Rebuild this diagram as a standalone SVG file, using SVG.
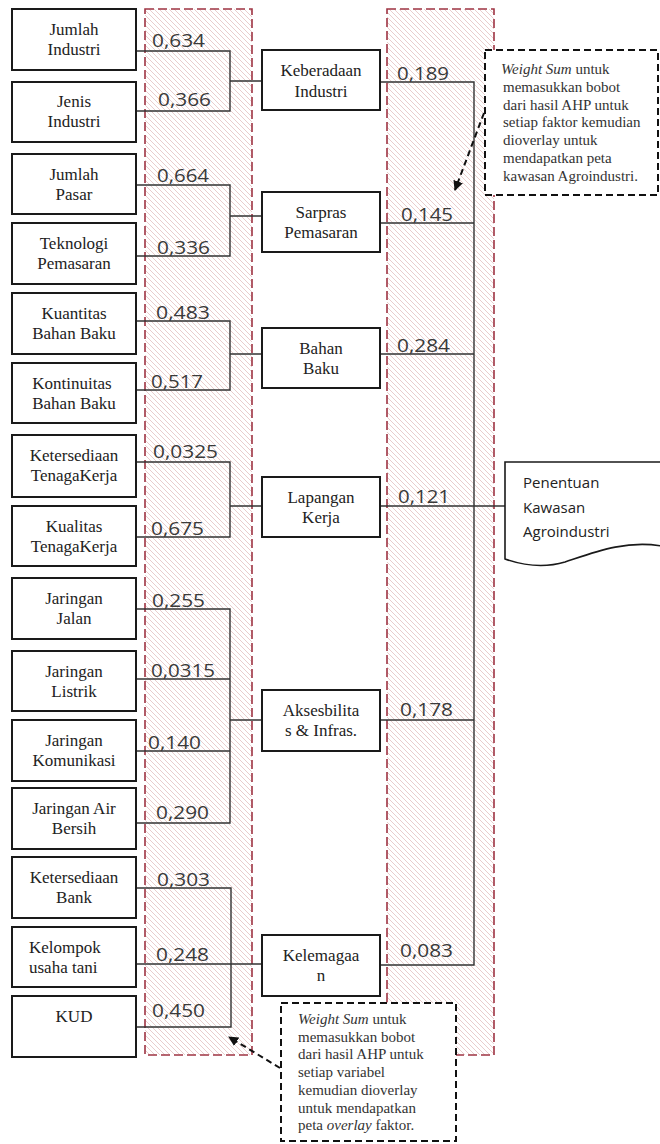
<svg xmlns="http://www.w3.org/2000/svg" width="660" height="1144" viewBox="0 0 660 1144">
<defs>
<pattern id="hatch" patternUnits="userSpaceOnUse" width="5" height="5">
<path d="M0,0 L5,5 M-1,4 L1,6 M4,-1 L6,1" stroke="#e3c0c0" stroke-width="0.8"/>
</pattern>
<marker id="arr" viewBox="0 0 10 10" refX="9" refY="5" markerWidth="5" markerHeight="5" orient="auto" markerUnits="strokeWidth">
<path d="M0,0 L10,5 L0,10 Z" fill="#111"/>
</marker>
<style>
.box{fill:#fff;stroke:#1a1a1a;stroke-width:2}
.t{font-family:"Liberation Serif","Times New Roman",serif;font-size:17px;fill:#222;text-anchor:middle}
.n{font-family:"Open Sans","Liberation Sans",sans-serif;font-size:19px;fill:#3a3a3a}
.c{fill:none;stroke:#333;stroke-width:1.4}
.region{fill:url(#hatch);stroke:#9e3443;stroke-width:1.6;stroke-dasharray:9 4}
.callout{fill:#fff;stroke:#111;stroke-width:2;stroke-dasharray:7 4}
.ct{font-family:"Liberation Serif","Times New Roman",serif;font-size:15px;fill:#333}
.arrow{fill:none;stroke:#111;stroke-width:2;stroke-dasharray:6 4}
</style>
</defs>
<rect width="660" height="1144" fill="#fff"/>

<g id="regions">
<rect class="region" x="145" y="9" width="107" height="1046"/>
<rect class="region" x="387" y="9" width="107" height="1046"/>
</g>

<g id="connectors">
<path class="c" d="M136,51 H230 V111 H136 M230,81 H262"/>
<path class="c" d="M136,185 H230 V256 H136 M230,216 H262"/>
<path class="c" d="M136,321 H230 V390 H136 M230,354 H262"/>
<path class="c" d="M136,462 H230 V537 H136 M230,506 H262"/>
<path class="c" d="M136,609 H230 V823 H136 M136,679 H230 M136,751 H230 M230,720 H262"/>
<path class="c" d="M136,888 H231 V1027 H136 M136,964 H262"/>
<path class="c" d="M380,82 H474 V965 H380 M380,223 H474 M380,354 H474 M380,506 H505 M380,720 H474"/>
</g>

<g id="weights">
<text class="n" x="152" y="47" textLength="53" lengthAdjust="spacingAndGlyphs">0,634</text>
<text class="n" x="158" y="106" textLength="53" lengthAdjust="spacingAndGlyphs">0,366</text>
<text class="n" x="157" y="182" textLength="52" lengthAdjust="spacingAndGlyphs">0,664</text>
<text class="n" x="157" y="254" textLength="53" lengthAdjust="spacingAndGlyphs">0,336</text>
<text class="n" x="156" y="319" textLength="54" lengthAdjust="spacingAndGlyphs">0,483</text>
<text class="n" x="151" y="388" textLength="52" lengthAdjust="spacingAndGlyphs">0,517</text>
<text class="n" x="153" y="458" textLength="65" lengthAdjust="spacingAndGlyphs">0,0325</text>
<text class="n" x="151" y="535" textLength="53" lengthAdjust="spacingAndGlyphs">0,675</text>
<text class="n" x="152" y="607" textLength="53" lengthAdjust="spacingAndGlyphs">0,255</text>
<text class="n" x="151" y="677" textLength="64" lengthAdjust="spacingAndGlyphs">0,0315</text>
<text class="n" x="148" y="749" textLength="53" lengthAdjust="spacingAndGlyphs">0,140</text>
<text class="n" x="156" y="819" textLength="53" lengthAdjust="spacingAndGlyphs">0,290</text>
<text class="n" x="157" y="886" textLength="53" lengthAdjust="spacingAndGlyphs">0,303</text>
<text class="n" x="156" y="961" textLength="53" lengthAdjust="spacingAndGlyphs">0,248</text>
<text class="n" x="152" y="1017" textLength="53" lengthAdjust="spacingAndGlyphs">0,450</text>
<text class="n" x="397" y="80" textLength="52" lengthAdjust="spacingAndGlyphs">0,189</text>
<text class="n" x="401" y="221" textLength="52" lengthAdjust="spacingAndGlyphs">0,145</text>
<text class="n" x="397" y="352" textLength="53" lengthAdjust="spacingAndGlyphs">0,284</text>
<text class="n" x="398" y="503" textLength="52" lengthAdjust="spacingAndGlyphs">0,121</text>
<text class="n" x="400" y="716" textLength="53" lengthAdjust="spacingAndGlyphs">0,178</text>
<text class="n" x="400" y="957" textLength="53" lengthAdjust="spacingAndGlyphs">0,083</text>
</g>

<g id="jumlah-industri"><rect class="box" x="12" y="9" width="124" height="61"/><text class="t" x="74" y="35">Jumlah</text><text class="t" x="74" y="54.5">Industri</text></g>
<g id="jenis-industri"><rect class="box" x="12" y="82" width="124" height="60"/><text class="t" x="74" y="107">Jenis</text><text class="t" x="74" y="127">Industri</text></g>
<g id="jumlah-pasar"><rect class="box" x="12" y="154" width="124" height="60"/><text class="t" x="74" y="180">Jumlah</text><text class="t" x="74" y="199.5">Pasar</text></g>
<g id="teknologi-pemasaran"><rect class="box" x="12" y="223" width="124" height="61"/><text class="t" x="74" y="249">Teknologi</text><text class="t" x="74" y="268.5">Pemasaran</text></g>
<g id="kuantitas-bahan-baku"><rect class="box" x="12" y="293" width="124" height="61"/><text class="t" x="74" y="319">Kuantitas</text><text class="t" x="74" y="338.5">Bahan Baku</text></g>
<g id="kontinuitas-bahan-baku"><rect class="box" x="12" y="363" width="124" height="60"/><text class="t" x="72" y="389">Kontinuitas</text><text class="t" x="74" y="408.5">Bahan Baku</text></g>
<g id="ketersediaan-tenagakerja"><rect class="box" x="12" y="435" width="124" height="62"/><text class="t" x="74" y="461">Ketersediaan</text><text class="t" x="74" y="480.5">TenagaKerja</text></g>
<g id="kualitas-tenagakerja"><rect class="box" x="12" y="506" width="124" height="60"/><text class="t" x="74" y="532">Kualitas</text><text class="t" x="74" y="551.5">TenagaKerja</text></g>
<g id="jaringan-jalan"><rect class="box" x="12" y="578" width="124" height="61"/><text class="t" x="74" y="604">Jaringan</text><text class="t" x="74" y="623.5">Jalan</text></g>
<g id="jaringan-listrik"><rect class="box" x="12" y="651" width="124" height="60"/><text class="t" x="74" y="677">Jaringan</text><text class="t" x="74" y="696.5">Listrik</text></g>
<g id="jaringan-komunikasi"><rect class="box" x="12" y="720" width="124" height="61"/><text class="t" x="74" y="746">Jaringan</text><text class="t" x="74" y="765.5">Komunikasi</text></g>
<g id="jaringan-air-bersih"><rect class="box" x="12" y="788" width="124" height="61"/><text class="t" x="74" y="814">Jaringan Air</text><text class="t" x="74" y="833.5">Bersih</text></g>
<g id="ketersediaan-bank"><rect class="box" x="12" y="857" width="124" height="61"/><text class="t" x="74" y="883">Ketersediaan</text><text class="t" x="74" y="902.5">Bank</text></g>
<g id="kelompok-usaha-tani"><rect class="box" x="12" y="927" width="124" height="60"/><text class="t" x="29" y="953" style="text-anchor:start">Kelompok</text><text class="t" x="29" y="972.5" style="text-anchor:start">usaha tani</text></g>
<g id="kud"><rect class="box" x="12" y="996" width="124" height="61"/><text class="t" x="74" y="1022">KUD</text></g>

<g id="keberadaan-industri"><rect class="box" x="262" y="50" width="118" height="60"/><text class="t" x="321" y="76">Keberadaan</text><text class="t" x="321" y="96.5">Industri</text></g>
<g id="sarpras-pemasaran"><rect class="box" x="262" y="192" width="118" height="60"/><text class="t" x="321" y="218">Sarpras</text><text class="t" x="321" y="238">Pemasaran</text></g>
<g id="bahan-baku"><rect class="box" x="262" y="328" width="118" height="60"/><text class="t" x="321" y="353.5">Bahan</text><text class="t" x="321" y="373.5">Baku</text></g>
<g id="lapangan-kerja"><rect class="box" x="262" y="477" width="118" height="60"/><text class="t" x="321" y="503">Lapangan</text><text class="t" x="321" y="523">Kerja</text></g>
<g id="aksesbilitas-infras"><rect class="box" x="262" y="690" width="118" height="61"/><text class="t" x="321" y="715.5">Aksesbilita</text><text class="t" x="321" y="735.5">s &amp; Infras.</text></g>
<g id="kelembagaan"><rect class="box" x="262" y="935" width="118" height="61"/><text class="t" x="321" y="961">Kelemagaa</text><text class="t" x="321" y="980.5">n</text></g>

<g id="penentuan-kawasan">
<path d="M505,462 H662 V546 C625,540 595,552 565,562 C545,568 525,566 505,559 Z" fill="#fff" stroke="#1a1a1a" stroke-width="1.6"/>
<g font-family="'Open Sans','Liberation Sans',sans-serif" font-size="15" fill="#222">
<text x="523" y="488">Penentuan</text>
<text x="523" y="513">Kawasan</text>
<text x="523" y="537">Agroindustri</text>
</g>
</g>

<g id="callout-faktor">
<rect class="callout" x="485" y="50" width="173" height="145"/>
<text class="ct" x="501" y="74"><tspan font-style="italic">Weight Sum</tspan> untuk</text>
<text class="ct" x="503" y="91.8">memasukkan bobot</text>
<text class="ct" x="503" y="109.6">dari hasil AHP untuk</text>
<text class="ct" x="503" y="127.4">setiap faktor kemudian</text>
<text class="ct" x="503" y="145.2">dioverlay untuk</text>
<text class="ct" x="503" y="163">mendapatkan peta</text>
<text class="ct" x="503" y="180.8">kawasan Agroindustri.</text>
</g>

<g id="callout-variabel">
<rect class="callout" x="281" y="1003" width="175" height="138"/>
<text class="ct" x="298" y="1024"><tspan font-style="italic">Weight Sum</tspan> untuk</text>
<text class="ct" x="298" y="1041.7">memasukkan bobot</text>
<text class="ct" x="298" y="1059.4">dari hasil AHP untuk</text>
<text class="ct" x="298" y="1077.1">setiap variabel</text>
<text class="ct" x="298" y="1094.8">kemudian dioverlay</text>
<text class="ct" x="298" y="1112.5">untuk mendapatkan</text>
<text class="ct" x="298" y="1130.2">peta <tspan font-style="italic">overlay</tspan> faktor.</text>
</g>

<g id="callout-arrows">
<line class="arrow" x1="484" y1="113" x2="455" y2="190" marker-end="url(#arr)"/>
<line class="arrow" x1="280" y1="1068" x2="229" y2="1037" marker-end="url(#arr)"/>
</g>
</svg>
